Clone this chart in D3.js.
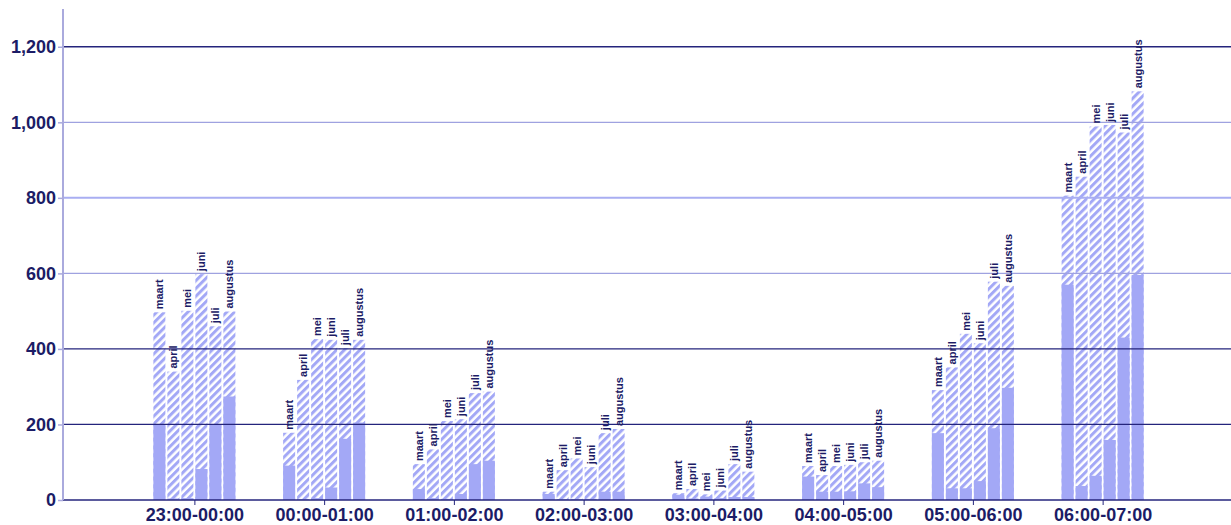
<!DOCTYPE html>
<html>
<head>
<meta charset="utf-8">
<script src="https://cdn.jsdelivr.net/npm/d3@7"></script>
<style>
  body { margin: 0; background: #fff; }
  svg { display: block; font-family: "Liberation Sans", Arial, sans-serif; }
</style>
</head>
<body>
<svg id="chart" width="1231" height="525"></svg>
<script>
// categories
const hours = ["23:00-00:00", "00:00-01:00", "01:00-02:00", "02:00-03:00",
               "03:00-04:00", "04:00-05:00", "05:00-06:00", "06:00-07:00"];
const months = ["maart", "april", "mei", "juni", "juli", "augustus"];

// total height of each bar (hatched top), per hour, per month
const totals = [
  [497, 340, 501, 598, 460, 499],
  [178, 318, 426, 424, 402, 424],
  [95, 134, 209, 214, 283, 287],
  [22, 79, 110, 87, 177, 188],
  [18, 29, 15, 25, 95, 75],
  [90, 66, 90, 93, 100, 104],
  [291, 351, 440, 415, 578, 567],
  [806, 856, 989, 993, 973, 1082]
];
// solid lower part of each bar
const solids = [
  [200, 4, 5, 82, 199, 274],
  [91, 2, 5, 33, 162, 205],
  [29, 5, 3, 16, 95, 104],
  [16, 2, 2, 3, 22, 22],
  [14, 4, 9, 5, 8, 8],
  [62, 22, 22, 23, 44, 34],
  [177, 31, 31, 50, 190, 297],
  [570, 37, 64, 159, 430, 596]
];
const yTicks = [0, 200, 400, 600, 800, 1000, 1200];

const w = 1231, h = 525;
const axisX = 63;
const barColor = "#a3a8f6";
const navy = "#1c1c66";

const svg = d3.select("#chart");

// hatch pattern
const defs = svg.append("defs");
const pat = defs.append("pattern")
    .attr("id", "hatch")
    .attr("patternUnits", "userSpaceOnUse")
    .attr("width", 5.5)
    .attr("height", 5.5)
    .attr("patternTransform", "rotate(45)");
pat.append("rect").attr("width", 5.5).attr("height", 5.5).attr("fill", "#fff");
pat.append("rect").attr("width", 3).attr("height", 5.5).attr("fill", barColor);

// scales
const y = d3.scaleLinear().domain([0, 1300]).range([500, 9]);
const x = d3.scaleBand().domain(hours).range([130, 1168]).padding(0);
const groupW = 84;

const rows = [];
hours.forEach((hr, i) => {
  const inner = d3.scaleBand().domain(months)
      .range([x(hr) + x.bandwidth() / 2 - groupW / 2, x(hr) + x.bandwidth() / 2 + groupW / 2]);
  months.forEach((m, j) => {
    rows.push({hour: hr, month: m, total: totals[i][j], solid: solids[i][j],
               x0: inner(m), bw: inner.bandwidth()});
  });
});

// hatched full bars
svg.append("g").selectAll("rect")
  .data(rows)
  .join("rect")
  .attr("x", d => d.x0 + 0.5)
  .attr("y", d => y(d.total))
  .attr("width", d => d.bw - 2)
  .attr("height", d => y(0) - y(d.total))
  .attr("fill", "url(#hatch)");

// solid bottom parts
svg.append("g").selectAll("rect")
  .data(rows)
  .join("rect")
  .attr("x", d => d.x0 + 0.5)
  .attr("y", d => y(d.solid))
  .attr("width", d => d.bw - 2)
  .attr("height", d => y(0) - y(d.solid))
  .attr("fill", barColor);

// gridlines (drawn over bars)
const gridStyle = v => {
  if (v === 800) return {c: "#a9aef2", sw: 2};
  if (v === 600 || v === 1000) return {c: "#9fa2e0", sw: 1.3};
  return {c: "#24247c", sw: 1.3};
};
svg.append("g").selectAll("line")
  .data(yTicks)
  .join("line")
  .attr("x1", axisX)
  .attr("x2", w)
  .attr("y1", d => y(d))
  .attr("y2", d => y(d))
  .attr("stroke", d => gridStyle(d).c)
  .attr("stroke-width", d => gridStyle(d).sw);

// y axis
const yAxis = d3.axisLeft(y).tickValues(yTicks).tickFormat(d3.format(",")).tickSize(5).tickPadding(2);
const yg = svg.append("g")
  .attr("transform", "translate(" + axisX + ",0)")
  .call(yAxis);
yg.select(".domain").attr("stroke", "#aaaadd").attr("stroke-width", 2)
  .attr("d", "M0," + y(1300) + "V" + y(0));
yg.selectAll(".tick line").attr("stroke", "#aaaadd").attr("stroke-width", 1.5);
yg.selectAll(".tick text")
  .attr("fill", navy)
  .style("font-size", "18px")
  .style("font-weight", "bold")
  .style("font-family", "'Liberation Sans', Arial, sans-serif");

// x axis
const xAxis = d3.axisBottom(x).tickSize(5).tickPadding(3);
const xg = svg.append("g")
  .attr("transform", "translate(0," + y(0) + ")")
  .call(xAxis);
xg.select(".domain").remove();
xg.selectAll(".tick line").attr("stroke", "#24247c");
xg.selectAll(".tick text")
  .attr("fill", navy)
  .style("font-size", "18px")
  .style("font-weight", "bold")
  .style("font-family", "'Liberation Sans', Arial, sans-serif");

// month labels above bars
svg.append("g").selectAll("text")
  .data(rows)
  .join("text")
  .attr("transform", d => "translate(" + (d.x0 + 0.5 + (d.bw - 2) / 2 + 4) + "," + (y(d.total) - 3) + ") rotate(-90)")
  .attr("text-anchor", "start")
  .attr("fill", navy)
  .style("font-size", "11px")
  .style("font-weight", "bold")
  .text(d => d.month);
</script>
</body>
</html>
